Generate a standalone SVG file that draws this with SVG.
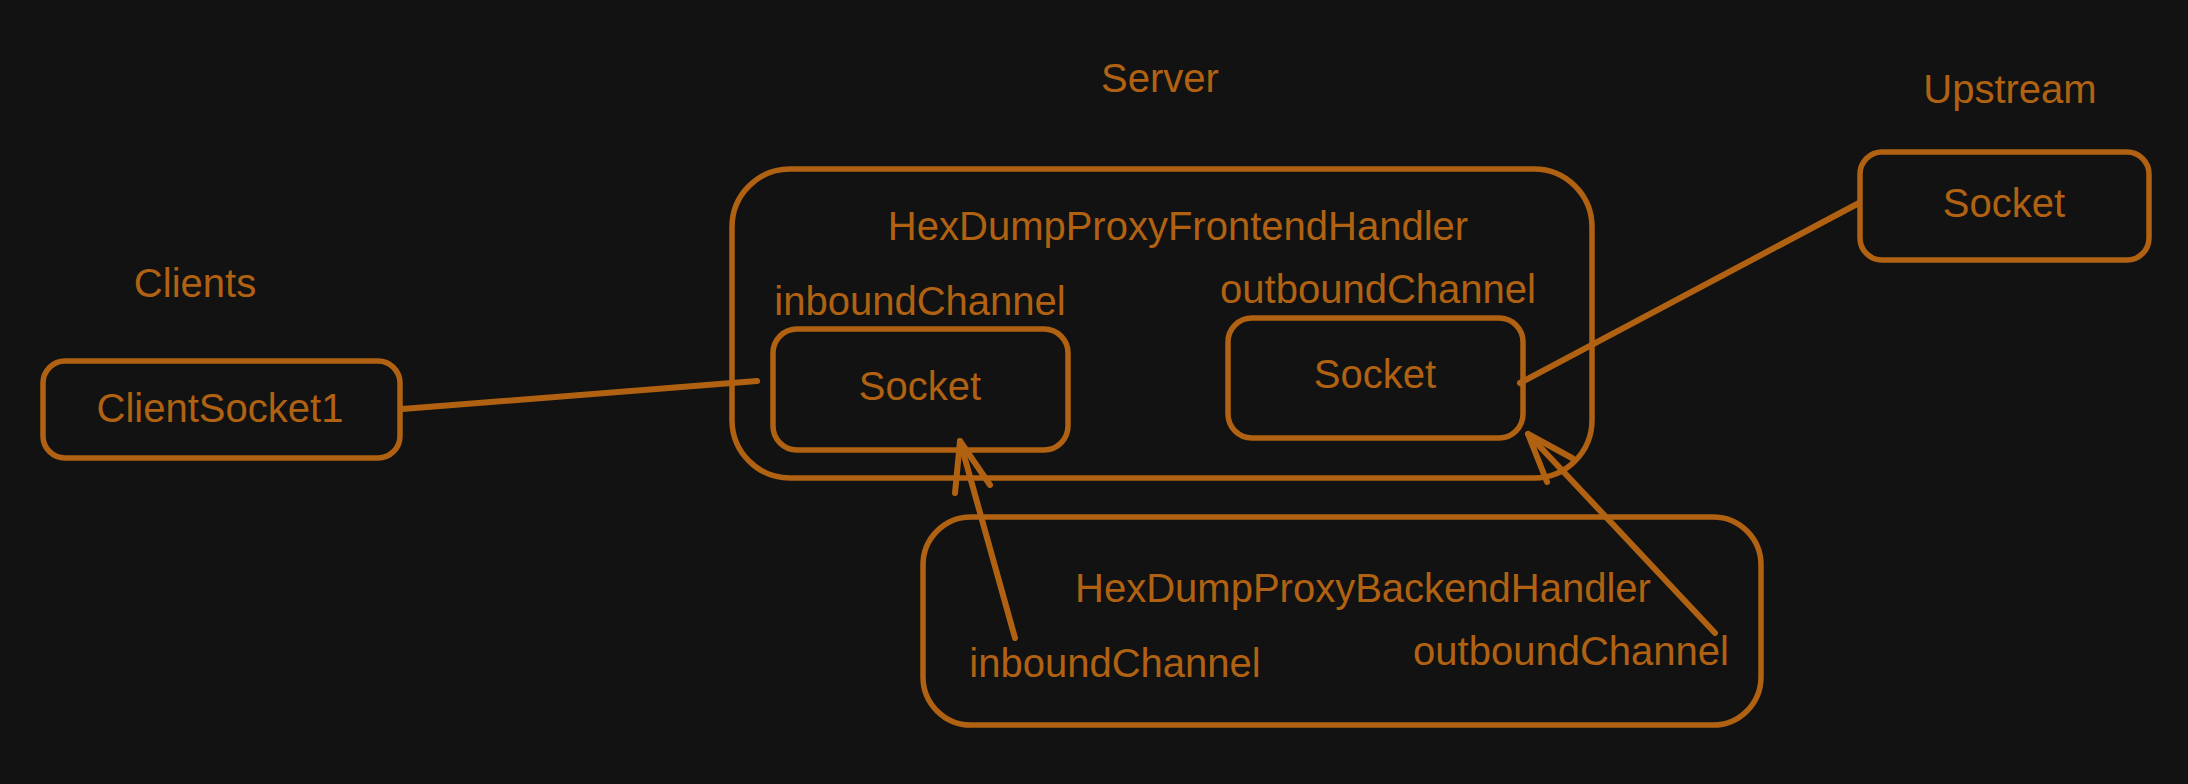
<svg xmlns="http://www.w3.org/2000/svg" width="2188" height="784" viewBox="0 0 2188 784">
  <style>
    .box { fill: none; stroke: #b06212; stroke-width: 5.5; stroke-linecap: round; stroke-linejoin: round; }
    .lbl { fill: #b06212; font-family: "Liberation Sans", Arial, sans-serif; font-size: 40px; text-anchor: middle; }
    .conn { fill: none; stroke: #b06212; stroke-width: 6; stroke-linecap: round; stroke-linejoin: round; }
  </style>
  <rect width="2188" height="784" fill="#121212"/>

  <g id="label-server"><text class="lbl" x="1160" y="92">Server</text></g>
  <g id="label-upstream"><text class="lbl" x="2010" y="103">Upstream</text></g>
  <g id="label-clients"><text class="lbl" x="195" y="297">Clients</text></g>

  <g id="client-socket1">
    <rect class="box" x="43" y="361" width="357" height="97" rx="22"/>
    <text class="lbl" x="220" y="422">ClientSocket1</text>
  </g>

  <g id="upstream-socket">
    <rect class="box" x="1860" y="152" width="289" height="108" rx="22"/>
    <text class="lbl" x="2004" y="217">Socket</text>
  </g>

  <g id="frontend-handler">
    <rect class="box" x="732" y="169" width="860" height="309" rx="58"/>
    <text class="lbl" x="1178" y="240">HexDumpProxyFrontendHandler</text>
    <text class="lbl" x="920" y="315">inboundChannel</text>
    <text class="lbl" x="1378" y="303">outboundChannel</text>
  </g>

  <g id="frontend-inbound-socket">
    <rect class="box" x="773" y="329" width="295" height="121" rx="24"/>
    <text class="lbl" x="920" y="400">Socket</text>
  </g>

  <g id="frontend-outbound-socket">
    <rect class="box" x="1228" y="318" width="295" height="120" rx="24"/>
    <text class="lbl" x="1375" y="388">Socket</text>
  </g>

  <g id="backend-handler">
    <rect class="box" x="923" y="517" width="838" height="208" rx="48"/>
    <text class="lbl" x="1363" y="602">HexDumpProxyBackendHandler</text>
    <text class="lbl" x="1115" y="677">inboundChannel</text>
    <text class="lbl" x="1571" y="665">outboundChannel</text>
  </g>

  <g id="connectors">
    <path class="conn" d="M402 409 L757 381"/>
    <path class="conn" d="M1520 383 L1859 203"/>
    <path class="conn" d="M1015 638 L960 441"/>
    <path class="conn" d="M955 493 L960 441 L990 485"/>
    <path class="conn" d="M1715 633 L1528 434"/>
    <path class="conn" d="M1547 482 L1528 434 L1572 458"/>
  </g>
</svg>
